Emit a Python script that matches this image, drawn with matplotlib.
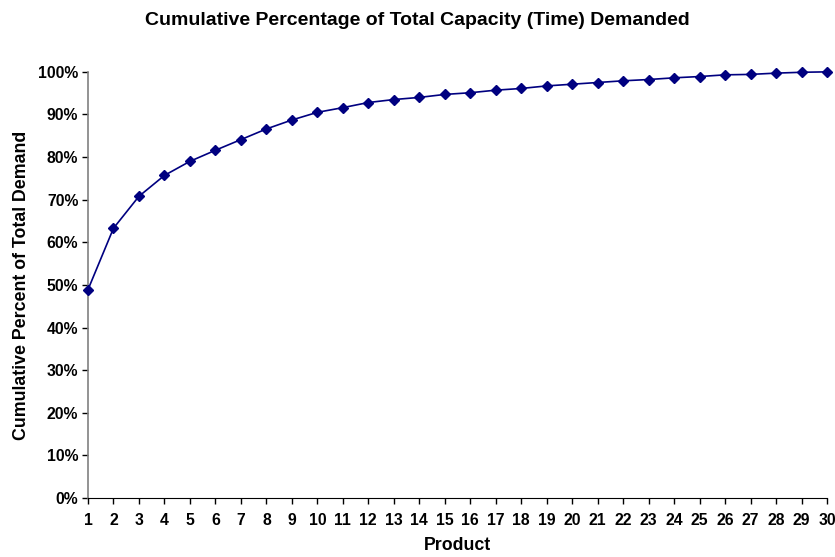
import matplotlib
matplotlib.use("Agg")
import matplotlib.pyplot as plt
from matplotlib.ticker import PercentFormatter

plt.rcParams['font.family'] = ['Liberation Sans', 'DejaVu Sans']

# data
products = list(range(1, 31))
cum_pct = [48.9, 63.3, 70.8, 75.7, 79.0, 81.6, 84.1, 86.6, 88.7, 90.5,
           91.6, 92.8, 93.5, 94.0, 94.7, 95.1, 95.7, 96.1, 96.7, 97.1,
           97.5, 97.9, 98.2, 98.6, 98.9, 99.3, 99.4, 99.7, 99.9, 100.0]

fig = plt.figure(figsize=(8.35, 5.57), dpi=100)
ax = fig.add_axes([0.1054, 0.106, 0.885, 0.765])

ax.plot(products, cum_pct, color='#000080', linewidth=1.2,
        marker='D', markersize=4.8, markerfacecolor='#000080',
        markeredgecolor='#000080', clip_on=False, zorder=3)

ax.set_xlim(1, 30)
ax.set_ylim(0, 100)
ax.set_xticks(products)
ax.set_yticks(range(0, 101, 10))
ax.yaxis.set_major_formatter(PercentFormatter(decimals=0))

for side in ['top', 'right']:
    ax.spines[side].set_visible(False)
ax.spines['left'].set_color('#808080')
ax.spines['left'].set_linewidth(1.2)
ax.spines['bottom'].set_color('black')
ax.tick_params(axis='both', direction='out', length=4, width=1, labelsize=11.3)
ax.tick_params(axis='y', pad=3)
ax.tick_params(axis='x', pad=7)
for lbl in ax.get_xticklabels() + ax.get_yticklabels():
    lbl.set_fontweight('bold')

ax.set_xlabel('Product', fontsize=12.8, fontweight='bold', labelpad=6)
ax.set_ylabel('Cumulative Percent of Total Demand', fontsize=12.8,
              fontweight='bold', labelpad=5.5)
fig.text(0.5, 0.963, 'Cumulative Percentage of Total Capacity (Time) Demanded',
         ha='center', va='center', fontsize=14, fontweight='bold')

fig.savefig('out.png', dpi=100)
